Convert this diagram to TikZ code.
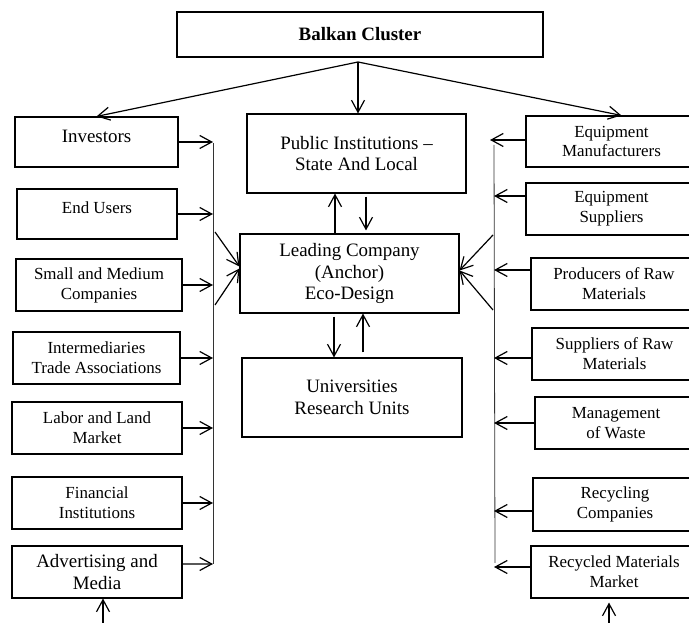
\documentclass[tikz,border=0pt]{standalone}
\usepackage{fontspec}
\setmainfont{Liberation Serif}
\usetikzlibrary{arrows.meta}

\begin{document}
\begin{tikzpicture}[x=1bp, y=1bp,
        >={Straight Barb[length=12bp, width=13bp]},
        mbox/.style = {draw, line width = 1.1bp, align = center, inner sep = 0pt, font = \fontsize{17}{20}\selectfont},
        mbig/.style = {mbox, font = \fontsize{19}{22}\selectfont},
        mlink/.style = {->, line width = 1.2bp},
        mbus/.style = {line width = 0.8bp, black!80},
        mraise/.style = {text depth = 12bp}
    ]
        \useasboundingbox (0,0) rectangle (689,623);
        \clip (0,0) rectangle (689,623);

        \node[mbox, minimum width = 366bp, minimum height = 45bp, font = \fontsize{19}{22}\selectfont\bfseries] (bc) at (360,588.5) {Balkan Cluster};
        \coordinate (apex) at (358,561);

        \node[mbig, minimum width = 219bp, minimum height = 79bp] (pub) at (356.5,469.5) {Public Institutions –\\State And Local};
        \node[mbig, minimum width = 219bp, minimum height = 79bp] (lead) at (349.5,349.5) {Leading Company\\(Anchor)\\Eco-Design};
        \node[mbig, minimum width = 220bp, minimum height = 79bp] (univ) at (352,225.5) {Universities\\Research Units};

        \node[mbig, mraise, minimum width = 163bp, minimum height = 50bp] (inv) at (96.5,481) {Investors};
        \node[mbox, mraise, minimum width = 160bp, minimum height = 50bp] (endu) at (97,409) {End Users};
        \node[mbox, minimum width = 166bp, minimum height = 52bp] (smc) at (99,338) {Small and Medium\\Companies};
        \node[mbox, minimum width = 167bp, minimum height = 52bp] (itr) at (96.5,265) {Intermediaries\\Trade Associations};
        \node[mbox, minimum width = 170bp, minimum height = 52bp] (lab) at (97,195) {Labor and Land\\Market};
        \node[mbox, minimum width = 170bp, minimum height = 52bp] (fin) at (97,120) {Financial\\Institutions};
        \node[mbig, minimum width = 170bp, minimum height = 52bp] (adv) at (97,51) {Advertising and\\Media};

        \node[mbox, minimum width = 171bp, minimum height = 51bp] (em) at (611.5,481.5) {Equipment\\Manufacturers};
        \node[mbox, minimum width = 171bp, minimum height = 52bp] (es) at (611.5,414) {Equipment\\Suppliers};
        \node[mbox, minimum width = 166bp, minimum height = 52bp] (prod) at (614,339) {Producers of Raw\\Materials};
        \node[mbox, minimum width = 165bp, minimum height = 52bp] (sraw) at (614.5,269) {Suppliers of Raw\\Materials};
        \node[mbox, minimum width = 162bp, minimum height = 52bp] (mgmt) at (616,200) {Management\\of Waste};
        \node[mbox, minimum width = 164bp, minimum height = 53bp] (rcy) at (615,118.5) {Recycling\\Companies};
        \node[mbox, minimum width = 166bp, minimum height = 52bp] (rmm) at (614,51) {Recycled Materials\\Market};

        \coordinate (busLt) at (213,480);
        \coordinate (busLb) at (213,59);
        \coordinate (busRt) at (494,478);
        \coordinate (busRb) at (495,60);
        \coordinate (dl1) at (215,391);
        \coordinate (dl2) at (215,318);
        \coordinate (dr1) at (493,388);
        \coordinate (dr2) at (493,313);
        \coordinate (bl) at (103,0);
        \coordinate (br) at (609,0);

        \draw[mlink] (apex) -- (inv.north);
        \draw[mlink] (apex) -- (apex |- pub.north);
        \draw[mlink] (apex) -- ([xshift=96bp]em.north west);

        \draw[mlink] ([xshift=-14.5bp]lead.north) -- ([xshift=-14.5bp]lead.north |- pub.south);
        \draw[mlink, shorten <= 3bp, shorten >= 3bp] ([xshift=16.5bp]lead.north |- pub.south) -- ([xshift=16.5bp]lead.north);
        \draw[mlink, shorten <= 3bp] ([xshift=-15.5bp]lead.south) -- ([xshift=-15.5bp]lead.south |- univ.north);
        \draw[mlink, shorten <= 5bp] ([xshift=13.5bp]lead.south |- univ.north) -- ([xshift=13.5bp]lead.south);

        \draw[mbus] (busLt) -- (busLb);
        \draw[mlink] (inv.east) -- (inv.east -| busLt);
        \draw[mlink] (endu.east) -- (endu.east -| busLt);
        \draw[mlink] (smc.east) -- (smc.east -| busLt);
        \draw[mlink] (itr.east) -- (itr.east -| busLt);
        \draw[mlink] (lab.east) -- (lab.east -| busLt);
        \draw[mlink] (fin.east) -- (fin.east -| busLt);
        \draw[mlink] ([yshift=8bp]adv.east) -- (busLb);
        \draw[mlink] (dl1) -- ([yshift=7bp]lead.west);
        \draw[mlink] (dl2) -- ([yshift=5bp]lead.west);

        \draw[mbus] (busRt) -- (busRb);
        \draw[mlink] ([yshift=1.5bp]em.west) -- ([yshift=1.5bp, xshift=-4bp]em.west -| busRt);
        \draw[mlink] ([yshift=13bp]es.west) -- ([yshift=13bp]es.west -| busRt);
        \draw[mlink] ([yshift=14bp]prod.west) -- ([yshift=14bp]prod.west -| busRt);
        \draw[mlink] ([yshift=-4bp]sraw.west) -- ([yshift=-4bp]sraw.west -| busRt);
        \draw[mlink] (mgmt.west) -- (mgmt.west -| busRt);
        \draw[mlink] ([yshift=-6.5bp]rcy.west) -- ([yshift=-6.5bp]rcy.west -| busRt);
        \draw[mlink] ([yshift=5bp]rmm.west) -- ([yshift=5bp]rmm.west -| busRt);
        \draw[mlink] (dr1) -- ([yshift=3bp]lead.east);
        \draw[mlink] (dr2) -- ([yshift=3bp]lead.east);

        \draw[mlink] (bl) -- (bl |- adv.south);
        \draw[mlink, shorten >= 4bp] (br) -- (br |- rmm.south);
    \end{tikzpicture}
\end{document}
